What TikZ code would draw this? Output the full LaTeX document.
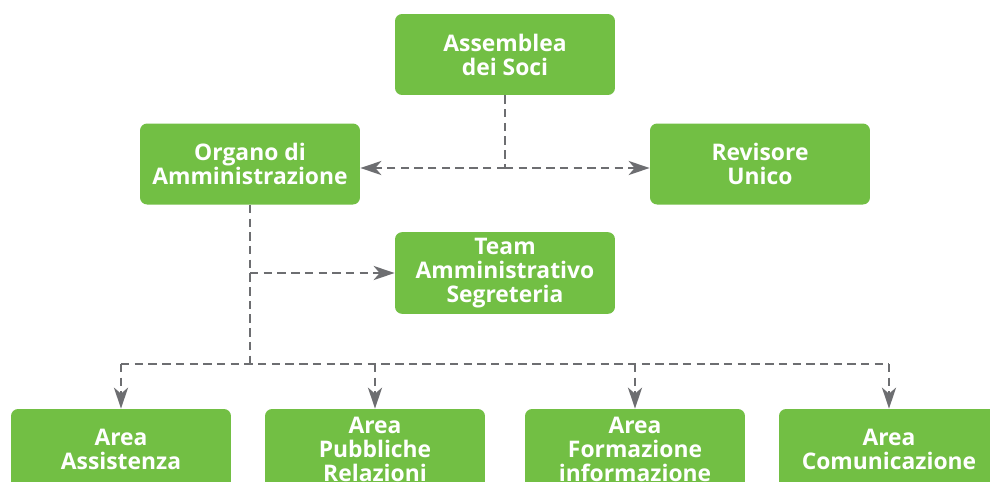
\documentclass[tikz,border=0pt]{standalone}
\usepackage{fontspec}
\setsansfont{Open Sans}
\usepackage{tikz}
\usetikzlibrary{arrows.meta, positioning}
\definecolor{orggreen}{HTML}{72BF44}
\definecolor{orggray}{HTML}{6D6E71}

\tikzset{
  orgbox/.style={fill=orggreen, text=white, rounded corners=0.14cm,
    minimum width=4.4cm, minimum height=1.62cm, align=center,
    font=\sffamily\bfseries\fontsize{13}{13.7}\selectfont},
  orglink/.style={draw=orggray, line width=1.4pt,
    dash pattern=on 4.8pt off 3pt},
  orgtip/.style={-{Stealth[length=0.42cm, width=0.28cm, inset=0.12cm]}}
}

\begin{document}
\begin{tikzpicture}[x=0.02cm, y=-0.02cm]
  \useasboundingbox (0,0) rectangle (990,481);
  \clip (0,0) rectangle (990,481);
  % top levels
  \node[orgbox] (asm) at (505,54.5) {Assemblea\\dei Soci};
  \node[orgbox] (organo) at (250,164) {Organo di\\Amministrazione};
  \node[orgbox] (revisore) at (760,164) {Revisore\\Unico};
  \node[orgbox] (team) at (505,273) {Team\\Amministrativo\\Segreteria};
  % areas
  \node[orgbox] (areaA) at (121,449.5) {Area\\Assistenza};
  \node[orgbox] (areaB) at (375,449.5) {Area\\Pubbliche\\Relazioni};
  \node[orgbox] (areaC) at (635,449.5) {Area\\Formazione\\informazione};
  \node[orgbox] (areaD) at (889,449.5) {Area\\Comunicazione};
  % connectors
  \coordinate (asmjoin) at (505,168);
  \coordinate (orgjoin) at (250,273);
  \coordinate (areajoin) at (250,364);
  \draw[orglink] (asm.south) -- (asmjoin);
  \draw[orglink, orgtip] (asmjoin) -- (organo.east |- asmjoin);
  \draw[orglink, orgtip] (asmjoin) -- (revisore.west |- asmjoin);
  \draw[orglink] (organo.south) -- (areajoin);
  \draw[orglink, orgtip] (orgjoin) -- (team.west);
  \draw[orglink] (areaA.north |- areajoin) -- (areaD.north |- areajoin);
  \foreach \a in {areaA,areaB,areaC,areaD}
    \draw[orglink, orgtip] (\a.north |- areajoin) -- (\a.north);
\end{tikzpicture}
\end{document}
